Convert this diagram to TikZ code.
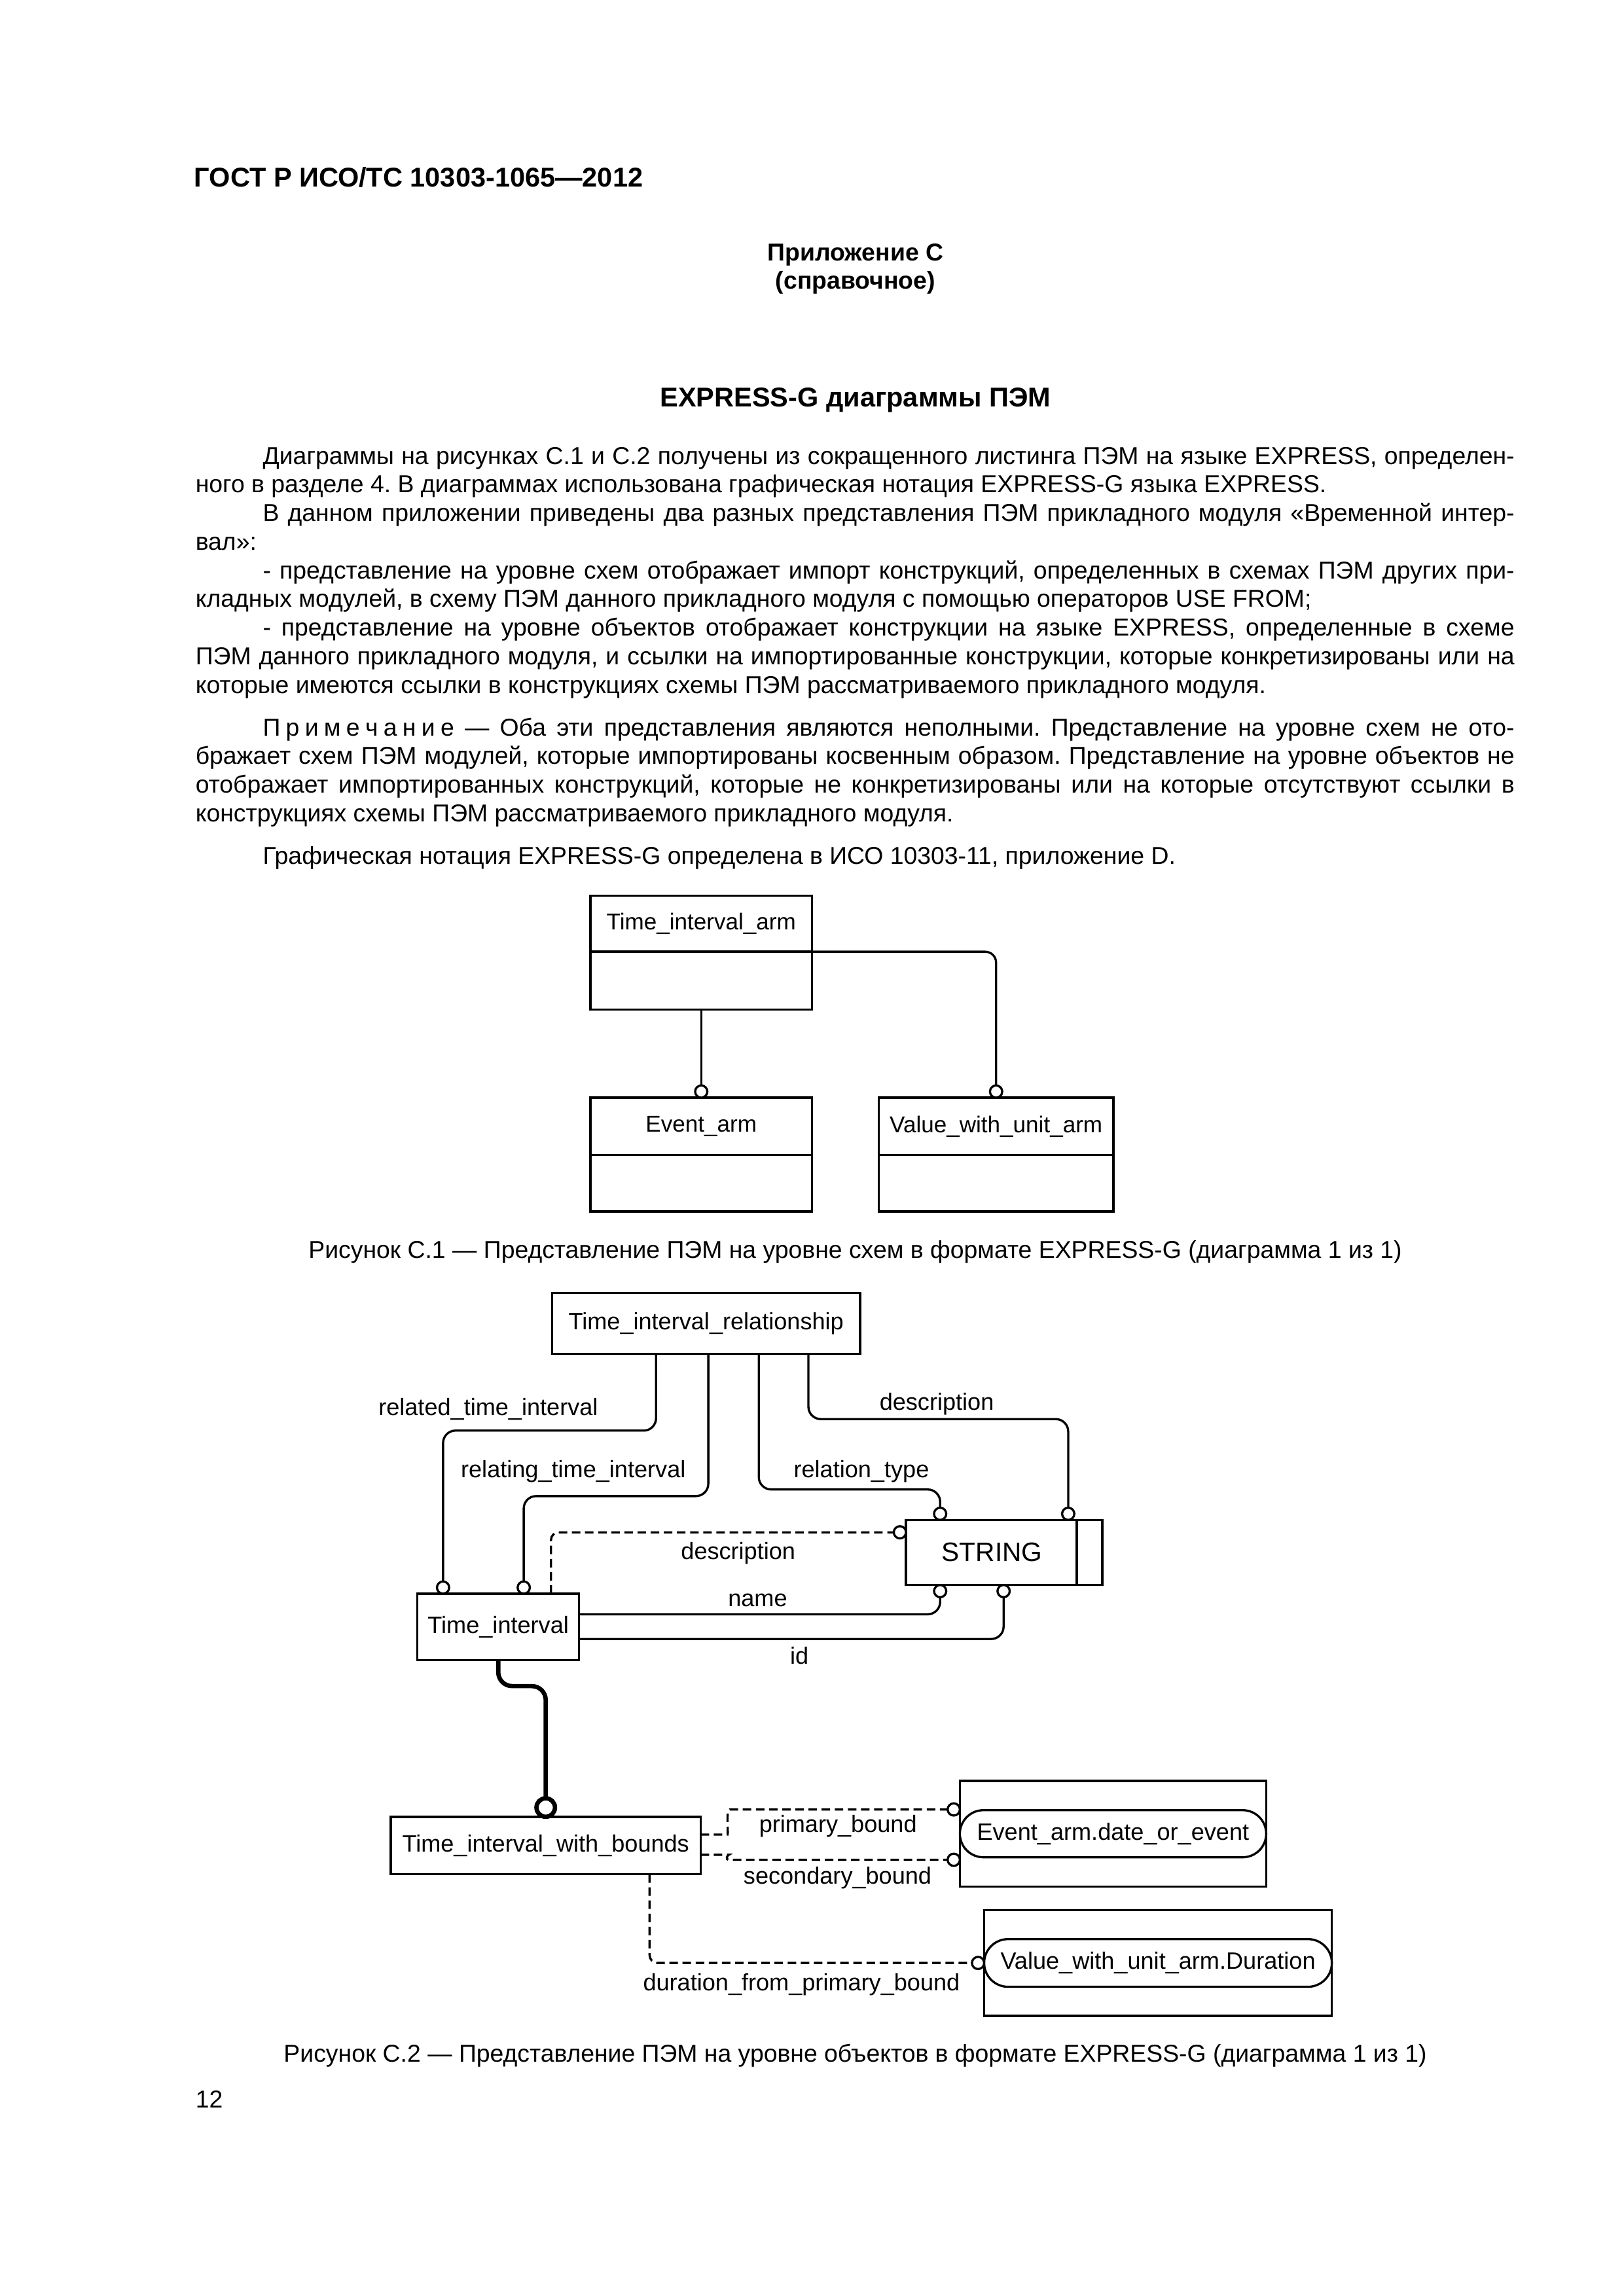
\documentclass[tikz,border=0pt]{standalone}
\usepackage{fontspec}
\setmainfont{Liberation Sans}
\usetikzlibrary{positioning, shapes.misc}
\frenchspacing

% one unit of the page grid (page is 1103 x 1560 units)
\newlength{\gridu}
\setlength{\gridu}{0.19039mm}
\newlength{\colw}
\setlength{\colw}{896\gridu}
\newcommand{\jl}[1]{\makebox[\colw][s]{#1}}
\newcommand{\ji}[1]{\makebox[\dimexpr\colw-45.7\gridu\relax][s]{#1}}

\tikzset{
  box/.style 2 args={draw, line width=0.8pt, fill=white, inner sep=0pt, outer sep=0pt,
    minimum width=#1\gridu, minimum height=#2\gridu, font=\fontsize{8.7}{10}\selectfont},
  stadium/.style={rounded rectangle, draw, line width=0.8pt, inner sep=0pt, outer sep=0pt,
    font=\fontsize{8.7}{10}\selectfont},
  ring/.style={circle, draw, line width=0.8pt, fill=white, inner sep=0pt, outer sep=0pt,
    minimum size=8.3\gridu},
  thickring/.style={ring, line width=1.6pt, minimum size=12.6\gridu},
  conn/.style={line width=0.8pt, rounded corners=1.6mm},
  opt/.style={conn, dash pattern=on 1.1mm off 0.6mm, rounded corners=1mm},
  super/.style={line width=1.6pt, rounded corners=1.8mm},
  lbl/.style={anchor=base, inner sep=0pt, font=\fontsize{8.7}{10}\selectfont},
  body/.style={anchor=base west, inner sep=0pt, font=\fontsize{9}{10.5}\selectfont}
}

\begin{document}
\begin{tikzpicture}[x=0.19039mm, y=-0.19039mm]
    % Page
    \fill[white] (0,0) rectangle (1103,1560);

    % Header and headings
    \node[body, font=\fontsize{10}{12}\bfseries\selectfont] (gost) at (131.7,126.8) {ГОСТ Р ИСО/ТС 10303-1065—2012};
    \node[body, anchor=base, font=\fontsize{9}{11}\bfseries\selectfont] (annex) at (581.2,177) {Приложение С};
    \node[body, anchor=base, font=\fontsize{9}{11}\bfseries\selectfont] (annexkind) at (581.2,196.5) {(справочное)};
    \node[body, anchor=base, font=\fontsize{10}{12}\bfseries\selectfont] (title) at (581.2,276.5) {EXPRESS-G диаграммы ПЭМ};

    % Body text, line by line
    \foreach \n/\x/\y/\t in {
      1/178.2/315.4/{\ji{Диаграммы на рисунках С.1 и С.2 получены из сокращенного листинга ПЭМ на языке EXPRESS, определен-}},
      2/132.5/334.85/{ного в разделе 4. В диаграммах использована графическая нотация EXPRESS-G языка EXPRESS.},
      3/178.2/354.3/{\ji{В данном приложении приведены два разных представления ПЭМ прикладного модуля «Временной интер-}},
      4/132.5/373.75/{вал»:},
      5/178.2/393.2/{\ji{- представление на уровне схем отображает импорт конструкций, определенных в схемах ПЭМ других при-}},
      6/132.5/412.65/{кладных модулей, в схему ПЭМ данного прикладного модуля с помощью операторов USE FROM;},
      7/178.2/432.1/{\ji{- представление на уровне объектов отображает конструкции на языке EXPRESS, определенные в схеме}},
      8/132.5/451.55/{\jl{ПЭМ данного прикладного модуля, и ссылки на импортированные конструкции, которые конкретизированы или на}},
      9/132.5/471.0/{которые имеются ссылки в конструкциях схемы ПЭМ рассматриваемого прикладного модуля.},
      10/178.2/499.9/{\ji{П\kern2pt р\kern2pt и\kern2pt м\kern2pt е\kern2pt ч\kern2pt а\kern2pt н\kern2pt и\kern2pt е — Оба эти представления являются неполными. Представление на уровне схем не ото-}},
      11/132.5/519.35/{\jl{бражает схем ПЭМ модулей, которые импортированы косвенным образом. Представление на уровне объектов не}},
      12/132.5/538.8/{\jl{отображает импортированных конструкций, которые не конкретизированы или на которые отсутствуют ссылки в}},
      13/132.5/558.25/{конструкциях схемы ПЭМ рассматриваемого прикладного модуля.},
      14/178.2/587.1/{Графическая нотация EXPRESS-G определена в ИСО 10303-11, приложение D.}} {
      \node[body] (line\n) at (\x,\y) {\t};
    }

    % Figure C.1: schema level
    \node[box={150.5}{38.1}, font=\fontsize{8.45}{10}\selectfont] (tia) at (476.4,627.6) {Time\_interval\_arm};
    \node[box={150.5}{39.4}, below=0pt of tia] (tiab) {};
    \node[box={150.5}{38.9}, font=\fontsize{8.45}{10}\selectfont] (ev) at (476.4,765.25) {Event\_arm};
    \node[box={150.5}{38.4}, below=0pt of ev] (evb) {};
    \node[box={159.4}{38.9}, font=\fontsize{8.45}{10}\selectfont] (vw) at (676.7,765.25) {Value\_with\_unit\_arm};
    \node[box={159.4}{38.4}, below=0pt of vw] (vwb) {};

    \node[ring, anchor=south] (evr) at (ev.north) {};
    \node[ring, anchor=south] (vwr) at (vw.north) {};

    \draw[conn] (tiab.south) -- (evr.north);
    \draw[conn, rounded corners=1.4mm] (tia.south east) -| (vwr.north);

    \node[body, anchor=base] (cap1) at (581,855) {Рисунок С.1 — Представление ПЭМ на уровне схем в формате EXPRESS-G (диаграмма 1 из 1)};

    % Figure C.2: entity level
    \node[box={209.2}{41.5}] (tir) at (479.7,899.25) {Time\_interval\_relationship};
    \node[box={109.8}{45.2}] (tint) at (338.5,1105.4) {Time\_interval};
    \node[box={133.4}{44.2}, font=\fontsize{9.8}{11}\selectfont] (str) at (682.2,1054.8) {STRING\kern16.4\gridu\null};
    \draw[line width=0.8pt] ([xshift=-17.4\gridu]str.north east) -- ([xshift=-17.4\gridu]str.south east);
    \node[box={210.5}{39}] (tiwb) at (370.75,1253.9) {Time\_interval\_with\_bounds};

    \node[box={208.1}{71.8}] (eadebox) at (756.15,1245.9) {};
    \node[stadium, minimum width=208.1\gridu, minimum height=32\gridu] (eade) at (eadebox.center) {Event\_arm.date\_or\_event};
    \node[box={236.2}{71.8}] (vwdbox) at (786.7,1333.7) {};
    \node[stadium, minimum width=236.2\gridu, minimum height=32.4\gridu] (vwd) at (vwdbox.center) {Value\_with\_unit\_arm.Duration};

    % Rings at the referenced ends
    \node[ring, anchor=south] (r1) at (301,0 |- tint.north) {};
    \node[ring, anchor=south] (r2) at (355.8,0 |- tint.north) {};
    \node[ring, anchor=south] (r3) at (638.7,0 |- str.north) {};
    \node[ring, anchor=south] (r4) at (725.7,0 |- str.north) {};
    \node[ring, anchor=east] (r5) at (str.west |- 0,1041.1) {};
    \node[ring, anchor=north] (r6) at (638.7,0 |- str.south) {};
    \node[ring, anchor=north] (r7) at (681.8,0 |- str.south) {};
    \node[thickring, anchor=south] (tr) at (tiwb.north) {};
    \node[ring, anchor=east] (pr) at (eadebox.west |- 0,1229.4) {};
    \node[ring, anchor=east] (sr) at (eadebox.west |- 0,1263.6) {};
    \node[ring, anchor=east] (dr) at (vwdbox.west |- 0,1333.7) {};

    % Attributes
    \draw[conn] (445.7,0 |- tir.south) -- ++(0,52) -| (r1.north);
    \draw[conn] (481.2,0 |- tir.south) -- ++(0,96.5) -| (r2.north);
    \draw[conn] (515.5,0 |- tir.south) -- ++(0,92) -| (r3.north);
    \draw[conn] (549.2,0 |- tir.south) -- ++(0,44.2) -| (r4.north);
    \draw[opt] (374.3,0 |- tint.north) |- (r5.west);
    \draw[conn] (tint.east |- 0,1096.8) -| (r6.south);
    \draw[conn] (tint.east |- 0,1113.6) -| (r7.south);
    \draw[opt] (tiwb.east |- 0,1246.5) -- (489,1246.5) .. controls (495,1246.5) and (493,1229.4) .. (501,1229.4) -- (pr.west);
    \draw[opt] (tiwb.east |- 0,1260.2) -- (490,1260.2) .. controls (494,1260.2) and (493,1263.6) .. (500,1263.6) -- (sr.west);
    \draw[opt] (441.3,0 |- tiwb.south) |- (dr.west);

    % Subtype line
    \draw[super] (tint.south) -- ++(0,17.6) -| (tr.north);

    % Attribute labels
    \node[lbl] (lrelated) at (331.7,961.7) {related\_time\_interval};
    \node[lbl] (lrelating) at (389.45,1003.8) {relating\_time\_interval};
    \node[lbl] (ltype) at (585.2,1003.8) {relation\_type};
    \node[lbl] (ldescr) at (636.4,958) {description};
    \node[lbl] (ldescrti) at (501.5,1059.6) {description};
    \node[lbl] (lname) at (514.7,1091.4) {name};
    \node[lbl] (lid) at (543,1130.6) {id};
    \node[lbl] (lprimary) at (569.3,1244.9) {primary\_bound};
    \node[lbl] (lsecondary) at (569,1280.2) {secondary\_bound};
    \node[lbl] (lduration) at (544.5,1352.5) {duration\_from\_primary\_bound};

    \node[body, anchor=base] (cap2) at (581,1401) {Рисунок С.2 — Представление ПЭМ на уровне объектов в формате EXPRESS-G (диаграмма 1 из 1)};

    % Page number
    \node[body] (pnum) at (132.5,1432) {12};
\end{tikzpicture}
\end{document}
